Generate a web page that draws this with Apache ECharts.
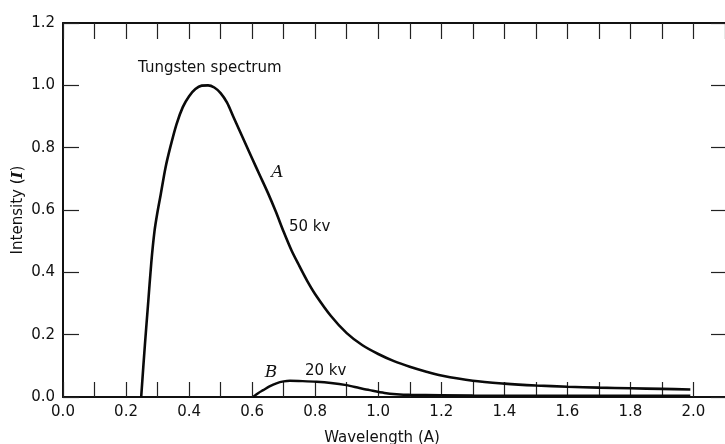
<!DOCTYPE html>
<html>
<head>
<meta charset="utf-8">
<style>
html,body{margin:0;padding:0;background:#fff;}
#chart{width:725px;height:444px;}
</style>
<script src="https://cdn.jsdelivr.net/npm/echarts@6/dist/echarts.min.js"></script>
</head>
<body>
<div id="chart"></div>
<script>
// Curve A: 50 kv tungsten spectrum
const wavelengthA = [0.248, 0.26, 0.27, 0.28, 0.29, 0.30, 0.31, 0.325, 0.34, 0.36, 0.38, 0.40, 0.42, 0.44, 0.46, 0.48, 0.50, 0.52, 0.54, 0.56, 0.58, 0.60, 0.625, 0.65, 0.675, 0.70, 0.725, 0.75, 0.775, 0.80, 0.85, 0.90, 0.95, 1.00, 1.05, 1.10, 1.15, 1.20, 1.30, 1.40, 1.50, 1.60, 1.70, 1.80, 1.90, 1.99];
const intensityA  = [0.0, 0.17, 0.30, 0.43, 0.53, 0.595, 0.65, 0.735, 0.80, 0.875, 0.93, 0.965, 0.988, 0.999, 1.0, 0.993, 0.975, 0.945, 0.90, 0.855, 0.81, 0.765, 0.71, 0.655, 0.595, 0.53, 0.47, 0.42, 0.372, 0.33, 0.26, 0.205, 0.166, 0.138, 0.115, 0.097, 0.082, 0.069, 0.052, 0.043, 0.037, 0.033, 0.030, 0.028, 0.026, 0.024];
// Curve B: 20 kv
const wavelengthB = [0.603, 0.62, 0.635, 0.655, 0.677, 0.70, 0.72, 0.76, 0.804, 0.85, 0.899, 0.94, 0.973, 1.02, 1.058, 1.10, 1.30, 1.60, 1.99];
const intensityB  = [0.0, 0.013, 0.022, 0.034, 0.044, 0.05, 0.052, 0.051, 0.049, 0.045, 0.038, 0.029, 0.022, 0.013, 0.009, 0.007, 0.005, 0.004, 0.004];
// Axes
const xMin = 0, xMax = 2.1, xStep = 0.1;
const yMin = 0, yMax = 1.2, yStep = 0.2;
const xTitle = 'Wavelength (A)';
const yTitle = 'Intensity';
const annotations = ['Tungsten spectrum', 'A', '50 kv', 'B', '20 kv'];

const FONT = 'DejaVu Sans';
const chart = echarts.init(document.getElementById('chart'), null, {renderer: 'canvas'});

const xLabelFmt = v => {
  const k = Math.round(v * 10);
  return (k % 2 === 0 && v < 2.05) ? v.toFixed(1) : '';
};

chart.setOption({
  animation: false,
  backgroundColor: '#fff',
  grid: {left: 63, right: 0, top: 23, bottom: 47, containLabel: false, outerBoundsMode: 'none'},
  xAxis: [{
    type: 'value', min: xMin, max: xMax, interval: xStep, position: 'bottom',
    axisLine: {show: true, onZero: false, lineStyle: {color: '#111', width: 2.2}},
    axisTick: {show: true, inside: true, length: 15, lineStyle: {color: '#222', width: 1.2}},
    axisLabel: {color: '#111', fontFamily: FONT, fontSize: 15, margin: 8, formatter: xLabelFmt, showMaxLabel: false},
    splitLine: {show: false},
    name: xTitle, nameLocation: 'middle', nameGap: 34,
    nameTextStyle: {color: '#111', fontFamily: FONT, fontSize: 15, padding: [0, 24, 0, 0]}
  }, {
    type: 'value', min: xMin, max: xMax, interval: xStep, position: 'top',
    axisLine: {show: true, onZero: false, lineStyle: {color: '#111', width: 2}},
    axisTick: {show: true, inside: true, length: 16, lineStyle: {color: '#222', width: 1.2}},
    axisLabel: {show: false}, splitLine: {show: false}
  }],
  yAxis: [{
    type: 'value', min: yMin, max: yMax, interval: yStep, position: 'left',
    axisLine: {show: true, onZero: false, lineStyle: {color: '#111', width: 2}},
    axisTick: {show: true, inside: true, length: 16, lineStyle: {color: '#222', width: 1.2}},
    axisLabel: {color: '#111', fontFamily: FONT, fontSize: 15, margin: 8, formatter: v => v.toFixed(1)},
    splitLine: {show: false},
    name: '{n|' + yTitle + ' (}{i|I}{n|)}', nameLocation: 'middle', nameGap: 37, nameRotate: 90,
    nameMoveOverlap: false,
    nameTextStyle: {
      color: '#111', fontFamily: FONT, fontSize: 15,
      rich: {
        n: {fontFamily: FONT, fontSize: 15, color: '#111'},
        i: {fontFamily: 'DejaVu Serif', fontStyle: 'italic', fontWeight: 'bold', fontSize: 15, color: '#111'}
      }
    }
  }, {
    type: 'value', min: yMin, max: yMax, interval: yStep, position: 'right',
    axisLine: {show: true, onZero: false, lineStyle: {color: '#111', width: 1, opacity: 0}},
    axisTick: {show: true, inside: true, length: 14, lineStyle: {color: '#222', width: 1.2}},
    axisLabel: {show: false}, splitLine: {show: false}
  }],
  series: [{
    type: 'line', name: '50 kv', xAxisIndex: 0, yAxisIndex: 0,
    data: wavelengthA.map((x, i) => [x, intensityA[i]]),
    smooth: 0.3, showSymbol: false, symbol: 'none',
    lineStyle: {color: '#0a0a0a', width: 2.6}
  }, {
    type: 'line', name: '20 kv', xAxisIndex: 0, yAxisIndex: 0,
    data: wavelengthB.map((x, i) => [x, intensityB[i]]),
    smooth: 0.3, showSymbol: false, symbol: 'none',
    lineStyle: {color: '#0a0a0a', width: 2.4}
  }],
  graphic: [
    {type: 'text', x: 138, y: 68.5, style: {text: annotations[0], font: '15px "DejaVu Sans"', fill: '#111', textAlign: 'left', textVerticalAlign: 'middle'}},
    {type: 'text', x: 277.5, y: 173, style: {text: annotations[1], font: 'italic 17px "DejaVu Serif"', fill: '#111', textAlign: 'center', textVerticalAlign: 'middle'}},
    {type: 'text', x: 289, y: 227, style: {text: annotations[2], font: '15px "DejaVu Sans"', fill: '#111', textAlign: 'left', textVerticalAlign: 'middle'}},
    {type: 'text', x: 271, y: 372.5, style: {text: annotations[3], font: 'italic 17px "DejaVu Serif"', fill: '#111', textAlign: 'center', textVerticalAlign: 'middle'}},
    {type: 'text', x: 305, y: 371, style: {text: annotations[4], font: '15px "DejaVu Sans"', fill: '#111', textAlign: 'left', textVerticalAlign: 'middle'}}
  ]
});
</script>
</body>
</html>
